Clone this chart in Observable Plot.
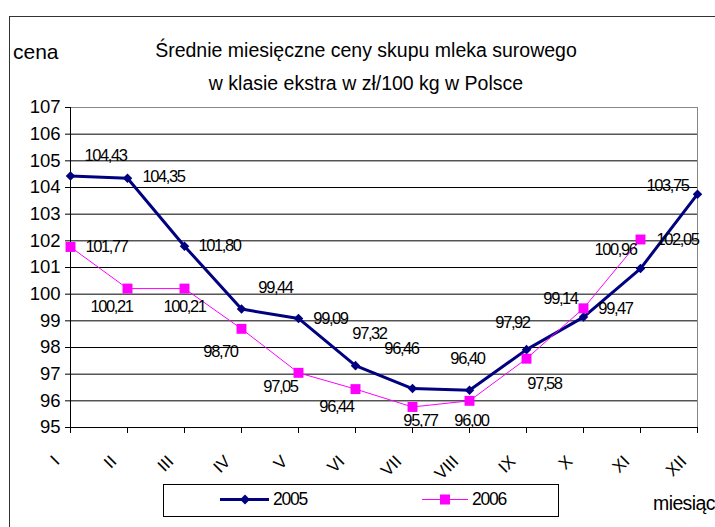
<!DOCTYPE html>
<html>
<head>
<meta charset="utf-8">
<script src="https://cdn.jsdelivr.net/npm/d3@7"></script>
<script src="https://cdn.jsdelivr.net/npm/@observablehq/plot@0.6"></script>
<style>
  body { margin: 0; background: #fff; }
  #wrap { position: relative; width: 715px; height: 527px; overflow: hidden; background: #fff;
          font-family: "Liberation Sans", Arial, sans-serif; color: #000; }
  .abs { position: absolute; white-space: nowrap; line-height: 1; }
</style>
</head>
<body>
<div id="wrap">
  <div id="chart" class="abs" style="left:0;top:0"></div>
  <div class="abs" style="left:9px;top:16px;width:820px;height:520px;border:1px solid #333;"></div>
  <div class="abs" style="left:0;width:732px;text-align:center;top:40.5px;font-size:19.5px">Średnie miesięczne ceny skupu mleka surowego</div>
  <div class="abs" style="left:0;width:732px;text-align:center;top:73.5px;font-size:19.5px">w klasie ekstra w zł/100 kg w Polsce</div>
  <div class="abs" style="left:13px;top:41px;font-size:21px">cena</div>
  <div class="abs" style="left:653px;top:494px;font-size:19.5px;letter-spacing:-0.6px">miesiąc</div>
  <div class="abs" style="left:163px;top:484px;width:394px;height:31px;border:1px solid #000;"></div>
  <svg class="abs" style="left:0;top:0" width="715" height="527">
    <line x1="220" x2="269" y1="499.5" y2="499.5" stroke="#000080" stroke-width="3"/>
    <path d="M245,494.5L250,499.5L245,504.5L240,499.5Z" fill="#000080"/>
    <line x1="422" x2="468" y1="499.5" y2="499.5" stroke="#ff00ff" stroke-width="1"/>
    <rect x="440" y="494.5" width="10" height="10" fill="#ff00ff"/>
  </svg>
  <div id="leg05" class="abs" style="left:273px;top:490.5px;font-size:17.5px;letter-spacing:-1.2px">2005</div>
  <div id="leg06" class="abs" style="left:472px;top:490.5px;font-size:17.5px;letter-spacing:-1.2px">2006</div>
</div>
<script>
const months = ["I","II","III","IV","V","VI","VII","VIII","IX","X","XI","XII"];
const values2005 = [104.43,104.35,101.80,99.44,99.09,97.32,96.46,96.40,97.92,99.14,100.96,103.75];
const values2006 = [101.77,100.21,100.21,98.70,97.05,96.44,95.77,96.00,97.58,99.47,102.05];
const yTicks = [95,96,97,98,99,100,101,102,103,104,105,106,107];
const gridValues = [96,97,98,99,100,101,102,103,104,105,106];
// label nudges (dx, dy) relative to each point, as placed in the original chart
const labelNudge2005 = [[35,-20],[36,-1],[35,0],[34,-21],[32,0],[14,-32],[-11,-40],[-2,-31],[-14,-27],[-23,-18],[-25,-19],[-30,-8]];
const labelNudge2006 = [[36,0],[-16,18],[0,18],[-21,23],[-18,14],[-19,18],[8,14],[2,20],[18,25],[32,0],[37,0]];

const data2005 = values2005.map((v,i) => ({month: months[i], value: v}));
const data2006 = values2006.map((v,i) => ({month: months[i], value: v}));
const fmt = v => d3.format(".2f")(v).replace(".", ",");

const labelMarks = (data, nudges) => data.map((d,i) =>
  Plot.text([d], {x: "month", y: "value", text: d => fmt(d.value),
    dx: nudges[i][0], dy: nudges[i][1], fontSize: 16.5, fill: "#000"}));

const chart = Plot.plot({
  width: 715,
  height: 527,
  marginLeft: 70,
  marginRight: 18,
  marginTop: 107,
  marginBottom: 100,
  style: {background: "transparent", fontFamily: "'Liberation Sans', Arial, sans-serif", color: "#000"},
  x: {type: "point", domain: months, padding: 0},
  y: {domain: [95, 107]},
  marks: [
    Plot.ruleY(gridValues, {stroke: "#000", strokeWidth: 1}),
    Plot.ruleY([107], {stroke: "#888", strokeWidth: 1}),
    Plot.ruleX(["XII"], {stroke: "#888", strokeWidth: 1}),
    Plot.ruleX(["I"], {stroke: "#000", strokeWidth: 1}),
    Plot.ruleY([95], {stroke: "#000", strokeWidth: 1}),
    Plot.axisY({ticks: yTicks, tickSize: 5, tickPadding: 5, fontSize: 18.5, tickFormat: d => String(d), label: null}),
    Plot.axisX({tickSize: 6, tickFormat: () => "", label: null}),
    Plot.text(months, {x: d => d, frameAnchor: "bottom", dx: -10, dy: 35, rotate: -45, textAnchor: "end", fontSize: 17, fill: "#000"}),
    Plot.line(data2005, {x: "month", y: "value", stroke: "#000080", strokeWidth: 3}),
    Plot.dot(data2005, {x: "month", y: "value", symbol: "diamond2", r: 4.3, fill: "#000080", stroke: "none"}),
    Plot.line(data2006, {x: "month", y: "value", stroke: "#ff00ff", strokeWidth: 1}),
    Plot.dot(data2006, {x: "month", y: "value", symbol: "square", r: 5.6, fill: "#ff00ff", stroke: "none"}),
    ...labelMarks(data2005, labelNudge2005),
    ...labelMarks(data2006, labelNudge2006)
  ]
});
document.getElementById("chart").appendChild(chart);
d3.select(chart).selectAll("text").filter(function() { return /^\d+,\d\d$/.test(this.textContent); })
  .attr("letter-spacing", "-1.4px");
</script>
</body>
</html>
